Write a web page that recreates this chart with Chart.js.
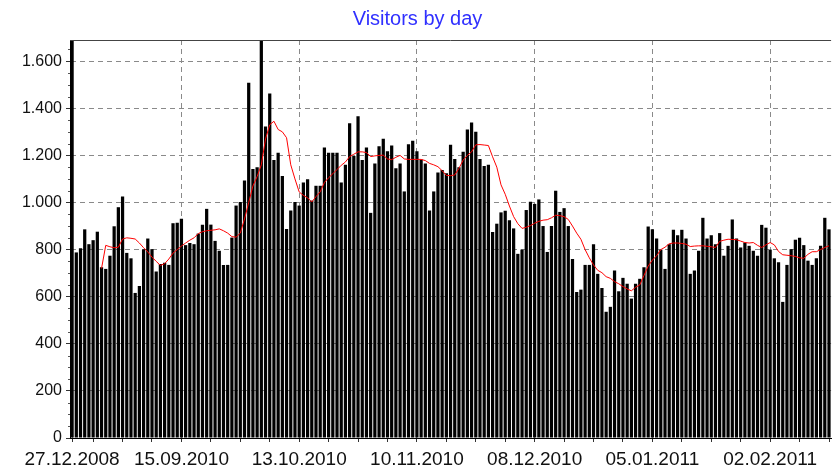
<!DOCTYPE html>
<html>
<head>
<meta charset="utf-8">
<script src="https://cdn.jsdelivr.net/npm/chart.js@4.4.1/dist/chart.umd.min.js"></script>
<style>
  html, body { margin: 0; padding: 0; background: #fff; overflow: hidden; }
  #wrap { width: 835px; height: 476px; }
</style>
</head>
<body>
<div id="wrap"><canvas id="grafico" width="835" height="476"></canvas></div>
<script>
// ======================================
// DADOS
// ======================================
const firstLabel = '27.12.2008';
const firstDay = '2010-08-21';   // dia da segunda barra, depois dias seguidos
const dayCount = 180;

const tickLabels = ['27.12.2008', '15.09.2010', '13.10.2010', '10.11.2010', '08.12.2010', '05.01.2011', '02.02.2011'];
const yTicks = [0, 200, 400, 600, 800, 1000, 1200, 1400, 1600];
const yMinorStep = 50;
const yMax = 1690;

const visitors = [
  1690, 788, 806, 886, 823, 840, 876, 725, 718, 774,
  899, 980, 1025, 786, 763, 616, 645, 802, 847, 802,
  707, 739, 744, 735, 912, 914, 931, 819, 828, 823,
  868, 906, 973, 906, 837, 795, 735, 735, 851, 987,
  1002, 1093, 1509, 1142, 1150, 1690, 1323, 1463, 1180, 1211,
  1113, 887, 966, 1002, 987, 1085, 1099, 1008, 1071, 1071,
  1233, 1211, 1211, 1211, 1085, 1160, 1337, 1197, 1366, 1180,
  1233, 956, 1166, 1239, 1271, 1218, 1242, 1145, 1166, 1047,
  1247, 1262, 1218, 1183, 1166, 966, 1047, 1127, 1138, 1124,
  1245, 1185, 1150, 1215, 1310, 1340, 1300, 1185, 1155, 1160,
  875, 910, 958, 965, 925, 890, 782, 800, 968, 1003,
  994, 1013, 900, 790, 900, 1050, 960, 976, 900, 760,
  620, 630, 735, 735, 823, 697, 637, 536, 557, 711,
  623, 680, 655, 592, 655, 676, 725, 898, 886, 847,
  800, 718, 823, 884, 861, 884, 847, 697, 711, 795,
  935, 847, 861, 823, 870, 774, 816, 928, 847, 809,
  830, 816, 795, 774, 905, 893, 800, 763, 746, 578,
  735, 802, 842, 850, 819, 753, 735, 763, 816, 935,
  886
];

const trend = [
  null, null, null, null, null, null, null, 720, 818, 812,
  808, 810, 845, 850, 848, 845, 828, 808, 790, 768,
  750, 733, 740, 760, 785, 800, 815, 828, 840, 850,
  868, 876, 880, 882, 884, 888, 880, 870, 855, 853,
  870, 930, 1000, 1070, 1110, 1160, 1270, 1330, 1345, 1310,
  1300, 1275, 1160, 1100, 1045, 1030, 1020, 1002, 1025, 1045,
  1085, 1105, 1122, 1140, 1158, 1172, 1195, 1205, 1215, 1215,
  1212, 1195, 1198, 1200, 1201, 1185, 1182, 1192, 1200, 1185,
  1183, 1183, 1183, 1183, 1178, 1166, 1160, 1152, 1135, 1115,
  1114, 1117, 1145, 1180, 1200, 1215, 1245, 1246, 1244, 1242,
  1194, 1150, 1075, 1035, 985, 940, 910, 890, 895, 902,
  912, 920, 925, 927, 935, 946, 944, 940, 928, 900,
  870, 844, 800, 765, 735, 712, 702, 685, 678, 664,
  655, 643, 633, 625, 640, 650, 690, 730, 755, 774,
  800, 810, 825, 828, 828, 826, 823, 813, 815, 816,
  816, 814, 812, 809, 835, 840, 844, 843, 842, 836,
  830, 828, 830, 818, 809, 820, 830, 820, 792, 778,
  776, 774, 771, 765, 763, 780, 791, 791, 800, 809,
  816
];

// rótulos diários
const labels = [firstLabel];
const d0 = new Date(firstDay + 'T12:00:00');
for (let i = 0; i < dayCount; i++) {
    const d = new Date(d0.getTime() + i * 86400000);
    labels.push(String(d.getDate()).padStart(2, '0') + '.' + String(d.getMonth() + 1).padStart(2, '0') + '.' + d.getFullYear());
}

const majorIdx = labels.map((l, i) => tickLabels.includes(l) ? i : -1).filter(i => i >= 0);
function isMajor(i) { return majorIdx.includes(i); }
function isWeek(i) { return i === 0 || (i >= 5 && (i - 5) % 7 === 0); }

function fmt(v) {
    if (v >= 1000) return Math.floor(v / 1000) + '.' + String(v % 1000).padStart(3, '0');
    return String(v);
}

// borda superior + ticks menores do eixo Y
const extras = {
    id: 'extras',
    afterDraw(chart) {
        const { ctx, chartArea } = chart;
        const y = chart.scales.y;
        ctx.save();
        ctx.strokeStyle = '#444';
        ctx.lineWidth = 1;
        ctx.beginPath();
        ctx.moveTo(chartArea.left, Math.round(chartArea.top) + 0.5);
        ctx.lineTo(chartArea.right, Math.round(chartArea.top) + 0.5);
        ctx.stroke();

        ctx.strokeStyle = '#555';
        ctx.beginPath();
        for (let v = yMinorStep; v < yMax; v += yMinorStep) {
            if (yTicks.includes(v)) continue;
            const py = Math.round(y.getPixelForValue(v)) + 0.5;
            ctx.moveTo(chartArea.left - 2, py);
            ctx.lineTo(chartArea.left, py);
        }
        ctx.stroke();
        ctx.restore();
    }
};

new Chart(document.getElementById('grafico'), {
    type: 'bar',
    data: {
        labels: labels,
        datasets: [
            {
                type: 'line',
                label: 'Trend',
                data: trend,
                borderColor: '#ff0000',
                borderWidth: 1,
                pointRadius: 0,
                tension: 0,
                fill: false,
                order: 0
            },
            {
                type: 'bar',
                label: 'Visitors',
                data: visitors,
                backgroundColor: '#000',
                borderWidth: 0,
                categoryPercentage: 1,
                barPercentage: 0.77,
                order: 1
            }
        ]
    },
    options: {
        responsive: false,
        animation: false,
        events: [],
        layout: { padding: { left: 0, right: 0, top: 0, bottom: 0 } },
        plugins: {
            legend: { display: false },
            tooltip: { enabled: false },
            title: {
                display: true,
                text: 'Visitors by day',
                color: '#3030ff',
                font: { family: 'Liberation Sans', size: 20, weight: 'normal' },
                padding: { top: 7, bottom: 9 }
            }
        },
        scales: {
            x: {
                offset: true,
                afterFit: s => { s.height = 38; },
                grid: {
                    offset: false,
                    color: c => isMajor(c.index) ? '#8a8a8a' : 'rgba(0,0,0,0)',
                    lineWidth: 1,
                    tickLength: 4,
                    tickColor: c => (isMajor(c.index) || isWeek(c.index)) ? '#333' : 'rgba(0,0,0,0)',
                    tickBorderDash: [1, 0]
                },
                border: { color: '#000', width: 1, dash: [5, 4] },
                ticks: {
                    autoSkip: false,
                    maxRotation: 0,
                    minRotation: 0,
                    padding: 6,
                    color: '#111',
                    font: { family: 'Liberation Sans', size: 19 },
                    callback: (v, i) => isMajor(i) ? labels[i] : ''
                }
            },
            y: {
                min: 0,
                max: yMax,
                afterFit: s => { s.width = 70; },
                afterBuildTicks: s => { s.ticks = yTicks.map(v => ({ value: v })); },
                grid: {
                    color: '#8a8a8a',
                    lineWidth: 1,
                    tickLength: 4,
                    tickColor: '#333',
                    tickBorderDash: [1, 0]
                },
                border: { color: '#000', width: 1, dash: [5, 4] },
                ticks: {
                    padding: 4,
                    color: '#111',
                    font: { family: 'Liberation Sans', size: 16 },
                    callback: v => fmt(v)
                }
            }
        }
    },
    plugins: [extras]
});
</script>
</body>
</html>
